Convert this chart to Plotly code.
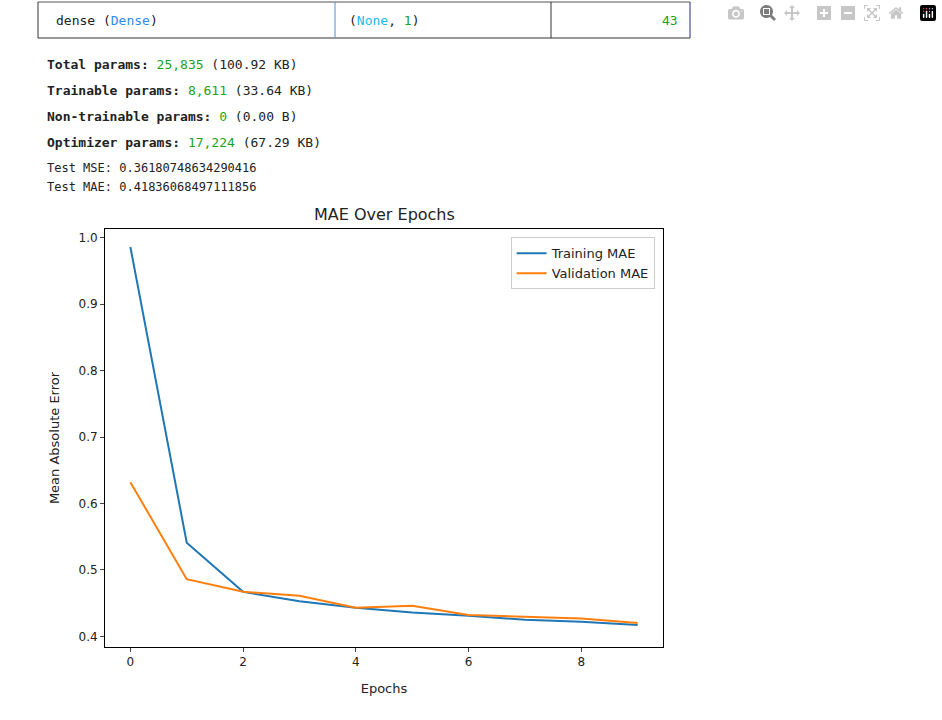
import plotly.graph_objects as go

epochs = list(range(10))
train_mae = [0.986, 0.541, 0.467, 0.453, 0.443, 0.436, 0.431, 0.425, 0.422, 0.417]
val_mae = [0.632, 0.486, 0.467, 0.461, 0.443, 0.446, 0.432, 0.430, 0.427, 0.420]
x_ticks = [0, 2, 4, 6, 8]
y_ticks = [0.4, 0.5, 0.6, 0.7, 0.8, 0.9, 1.0]

W, H = 942, 720
L, R, T, B = 105, 663, 229, 647

def px(x):
    return (x - L) / (R - L)

def py(y):
    return (B - y) / (B - T)

fig = go.Figure()
fig.add_trace(go.Scatter(x=epochs, y=train_mae, mode="lines", name="Training MAE",
                         line=dict(color="#1f77b4", width=2)))
fig.add_trace(go.Scatter(x=epochs, y=val_mae, mode="lines", name="Validation MAE",
                         line=dict(color="#ff7f0e", width=2)))

mono = "DejaVu Sans Mono"
G = "#1aa31a"
B1 = "#2e8be6"
C1 = "#19b8e8"
ann = []
def text(x, y, s, size=13, anchor="left", font=mono):
    ann.append(dict(x=px(x), y=py(y), xref="paper", yref="paper", text=s, showarrow=False,
                    xanchor=anchor, yanchor="middle", font=dict(family=font, size=size, color="#222")))

text(54, 20, 'dense (<span style="color:%s">Dense</span>)' % B1)
text(347, 20, '(<span style="color:%s">None</span>, <span style="color:%s">1</span>)' % (C1, G))
text(680, 20, '<span style="color:%s">43</span>' % G, anchor="right")
text(45, 64, '<b>Total params:</b> <span style="color:%s">25,835</span> (100.92 KB)' % G)
text(45, 90, '<b>Trainable params:</b> <span style="color:%s">8,611</span> (33.64 KB)' % G)
text(45, 116, '<b>Non-trainable params:</b> <span style="color:%s">0</span> (0.00 B)' % G)
text(45, 142, '<b>Optimizer params:</b> <span style="color:%s">17,224</span> (67.29 KB)' % G)
text(45, 168, 'Test MSE: 0.36180748634290416', size=12)
text(45, 187, 'Test MAE: 0.41836068497111856', size=12)
text(384, 215, 'MAE Over Epochs', size=16, anchor="center", font="DejaVu Sans")

shapes = []
for (x0, y0, x1, y1, c) in [(38, 2, 690, 2, "#555"), (38, 38, 690, 38, "#333"),
                            (38, 2, 38, 38, "#333"), (690, 2, 690, 38, "#2a2a8a"),
                            (335, 2, 335, 38, "#4a90d9"), (551, 2, 551, 38, "#333")]:
    shapes.append(dict(type="line", xref="paper", yref="paper", x0=px(x0), y0=py(y0),
                       x1=px(x1), y1=py(y1), line=dict(color=c, width=1)))

fig.update_layout(
    width=W, height=H, margin=dict(l=L, r=W - R, t=T, b=H - B),
    plot_bgcolor="white", paper_bgcolor="white",
    font=dict(family="DejaVu Sans", size=12, color="#222"),
    annotations=ann, shapes=shapes,
    legend=dict(x=0.985, y=0.98, xanchor="right", yanchor="top", bordercolor="#ccc",
                borderwidth=1, font=dict(size=13), bgcolor="white"),
    xaxis=dict(range=[-0.45, 9.45], tickvals=x_ticks, showgrid=False, zeroline=False,
               showline=True, linecolor="black", mirror=True, ticks="outside", ticklen=4,
               title=dict(text="Epochs", font=dict(size=13))),
    yaxis=dict(range=[0.384, 1.013], tickvals=y_ticks, tickformat=".1f", showgrid=False,
               zeroline=False, showline=True, linecolor="black", mirror=True,
               ticks="outside", ticklen=4,
               title=dict(text="Mean Absolute Error", font=dict(size=13))),
)
fig.write_html("out.html", post_script="document.body.style.margin='0';")
